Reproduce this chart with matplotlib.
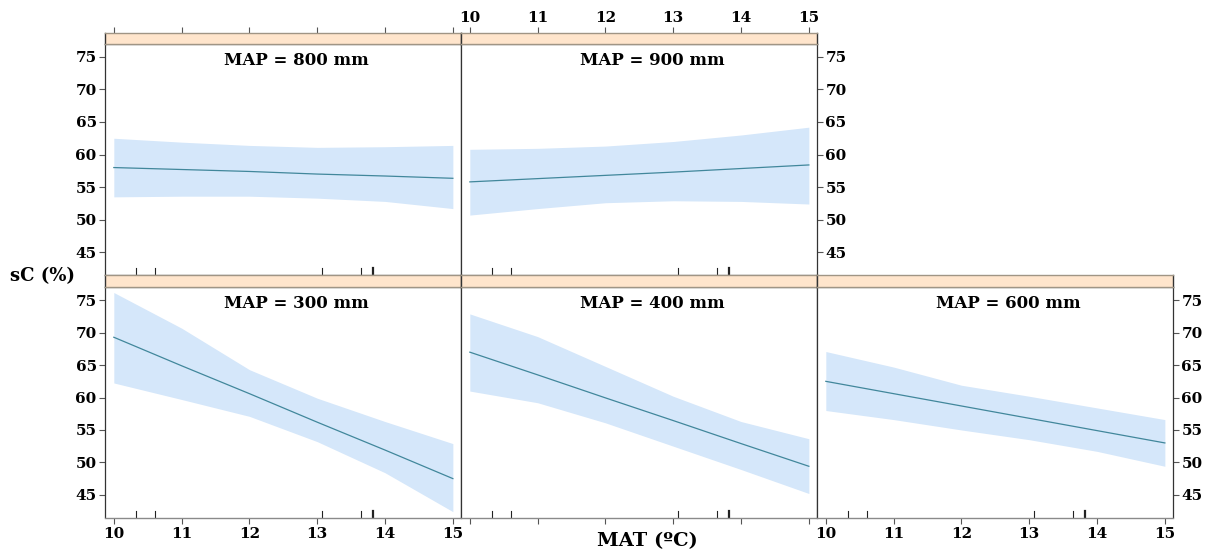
import matplotlib
matplotlib.use("Agg")
import matplotlib.pyplot as plt
import numpy as np

plt.rcParams['font.family'] = ['DejaVu Serif', 'Liberation Serif']
plt.rcParams['font.weight'] = 'bold'

# ---- data ----
mat = [10, 11, 12, 13, 14, 15]
panels = ["MAP = 800 mm", "MAP = 900 mm", "MAP = 300 mm", "MAP = 400 mm", "MAP = 600 mm"]
fit_800 = [58.0, 57.7, 57.4, 57.0, 56.7, 56.35]
lo_800 = [53.5, 53.6, 53.6, 53.3, 52.8, 51.7]
hi_800 = [62.5, 61.9, 61.4, 61.1, 61.2, 61.4]
fit_900 = [55.8, 56.3, 56.8, 57.3, 57.85, 58.4]
lo_900 = [50.7, 51.7, 52.6, 52.9, 52.8, 52.4]
hi_900 = [60.8, 60.95, 61.3, 62.0, 63.0, 64.2]
fit_300 = [69.3, 64.9, 60.6, 56.2, 51.9, 47.5]
lo_300 = [62.25, 59.7, 57.1, 53.2, 48.4, 42.4]
hi_300 = [76.2, 70.7, 64.3, 59.9, 56.3, 52.9]
fit_400 = [67.0, 63.5, 59.95, 56.45, 52.9, 49.4]
lo_400 = [61.0, 59.2, 56.1, 52.5, 48.9, 45.2]
hi_400 = [72.9, 69.4, 64.8, 60.2, 56.3, 53.65]
fit_600 = [62.5, 60.6, 58.7, 56.8, 54.9, 53.0]
lo_600 = [58.0, 56.6, 55.0, 53.5, 51.7, 49.4]
hi_600 = [67.1, 64.7, 61.9, 60.2, 58.4, 56.6]
rug_x = [10.33, 10.61, 13.07, 13.65, 13.82]
x_ticks = [10, 11, 12, 13, 14, 15]
y_ticks = [45, 50, 55, 60, 65, 70, 75]

fits = [fit_800, fit_900, fit_300, fit_400, fit_600]
los = [lo_800, lo_900, lo_300, lo_400, lo_600]
his = [hi_800, hi_900, hi_300, hi_400, hi_600]

W, H = 1208, 554
fig = plt.figure(figsize=(W / 100, H / 100), dpi=100)

def rect(x0, y0, x1, y1):
    return [x0 / W, 1 - y1 / H, (x1 - x0) / W, (y1 - y0) / H]

cols = [(105, 461), (461, 817), (817, 1173)]
rows = [(33, 43.5, 275), (275, 287, 517.5)]  # strip top, strip bottom/panel top, panel bottom
layout = [
    (0, 0, 'left', 'ticks', 'none'),
    (0, 1, 'right', 'labels', 'none'),
    (1, 0, 'left', 'none', 'labels'),
    (1, 1, 'none', 'none', 'ticks'),
    (1, 2, 'right', 'none', 'labels'),
]

XLIM = (9.87, 15.12)
YLIM = (41.5, 77.05)
fill_c = '#D5E7FA'
line_c = '#41879B'
edge_dark = '#333333'
edge_gray = '#8a8a8a'
strip_c = '#FFE5CC'
strip_edge = '#A09585'
lab_fs = 11

for i, (r, c, yside, topmode, botmode) in enumerate(layout):
    x0, x1 = cols[c]
    st, sb, pb = rows[r]
    ax = fig.add_axes(rect(x0, sb, x1, pb))
    ax.fill_between(mat, los[i], his[i], color=fill_c, lw=0)
    ax.plot(mat, fits[i], color=line_c, lw=0.9)
    for k, rx in enumerate(rug_x):
        ax.plot([rx, rx], [0, 0.03], transform=ax.get_xaxis_transform(),
                color='#222222', lw=1.6 if k == 4 else 0.8)
    ax.set_xlim(XLIM)
    ax.set_ylim(YLIM)
    for s in ['left', 'right']:
        ax.spines[s].set_color(edge_dark)
        ax.spines[s].set_linewidth(0.9)
    for s in ['top', 'bottom']:
        ax.spines[s].set_color(edge_gray)
        ax.spines[s].set_linewidth(1.0)
    ax.text(0.537, 0.965, panels[i], transform=ax.transAxes, ha='center', va='top',
            fontsize=12, fontweight='bold')
    ax.set_yticks(y_ticks)
    if yside == 'left':
        ax.tick_params(axis='y', left=True, right=False, labelleft=True, labelright=False)
    elif yside == 'right':
        ax.tick_params(axis='y', left=False, right=True, labelleft=False, labelright=True)
    else:
        ax.tick_params(axis='y', left=False, right=False, labelleft=False, labelright=False)
    ax.tick_params(axis='y', length=4, width=0.8, color='#555555', labelsize=lab_fs, pad=2)
    ax.set_xticks(x_ticks)
    ax.tick_params(axis='x', top=False, labeltop=False, length=4, width=0.8, color='#555555',
                   labelsize=lab_fs, pad=3)
    if botmode == 'labels':
        ax.tick_params(axis='x', bottom=True, labelbottom=True)
    elif botmode == 'ticks':
        ax.tick_params(axis='x', bottom=True, labelbottom=False)
    else:
        ax.tick_params(axis='x', bottom=False, labelbottom=False)
    for lbl in ax.get_xticklabels() + ax.get_yticklabels():
        lbl.set_fontweight('bold')

    sax = fig.add_axes(rect(x0, st, x1, sb))
    sax.set_facecolor(strip_c)
    sax.set_xlim(XLIM)
    sax.set_yticks([])
    for s in sax.spines.values():
        s.set_color(strip_edge)
        s.set_linewidth(1.0)
    sax.spines['left'].set_color(edge_dark)
    sax.spines['right'].set_color(edge_dark)
    sax.set_xticks(x_ticks)
    sax.tick_params(axis='x', bottom=False, labelbottom=False, length=4, width=0.8,
                    color='#555555', labelsize=lab_fs, pad=2)
    if topmode == 'labels':
        sax.tick_params(axis='x', top=True, labeltop=True)
    elif topmode == 'ticks':
        sax.tick_params(axis='x', top=True, labeltop=False)
    else:
        sax.tick_params(axis='x', top=False, labeltop=False)
    for lbl in sax.get_xticklabels():
        lbl.set_fontweight('bold')

fig.text(42 / W, 1 - 276 / H, 'sC (%)', ha='center', va='center', fontsize=13, fontweight='bold')
fig.text(647 / W, 1 - 541 / H, 'MAT (ºC)', ha='center', va='center', fontsize=14, fontweight='bold')

fig.savefig('out.png', dpi=100)
